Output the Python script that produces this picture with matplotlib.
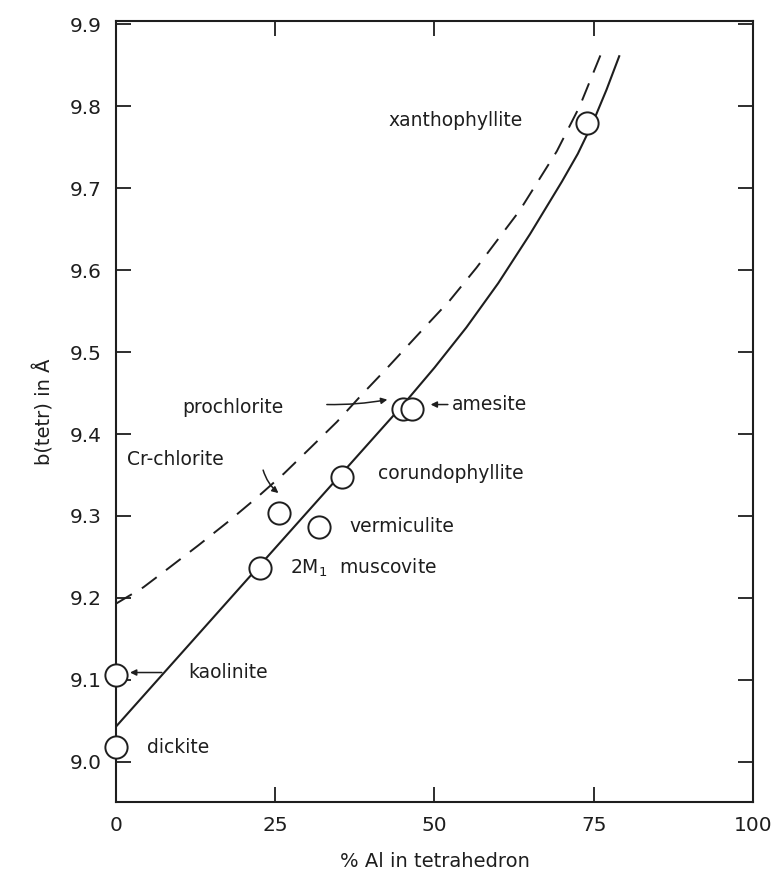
import matplotlib
matplotlib.use('Agg')
import matplotlib.pyplot as plt

# measured points (% Al in tetrahedron, b(tetr) in Angstrom)
minerals = ['xanthophyllite', 'prochlorite', 'amesite', 'corundophyllite',
            'Cr-chlorite', 'vermiculite', '2M1 muscovite', 'kaolinite', 'dickite']
al_pct = [74.0, 45.1, 46.5, 35.5, 25.6, 31.9, 22.6, 0.0, 0.0]
b_tetr = [9.779, 9.431, 9.431, 9.347, 9.304, 9.287, 9.236, 9.106, 9.018]

# solid curve
solid_x = [0.0, 22.6, 45.1, 50.0, 55.0, 60.0, 65.0, 70.0, 72.5, 74.8, 77.0, 79.0]
solid_y = [9.043, 9.240, 9.436, 9.481, 9.530, 9.584, 9.644, 9.708, 9.742, 9.779, 9.820, 9.861]

# dashed curve
dash_x = [0.0, 4.3, 8.2, 12.9, 17.6, 22.2, 26.4, 30.5, 34.7, 38.7, 42.5, 48.2,
          52.4, 56.6, 63.4, 69.2, 72.8, 76.2]
dash_y = [9.193, 9.213, 9.236, 9.264, 9.293, 9.323, 9.352, 9.383, 9.415, 9.449,
          9.480, 9.528, 9.563, 9.603, 9.673, 9.745, 9.800, 9.865]

x_ticks = [0, 25, 50, 75, 100]
y_ticks = [9.0, 9.1, 9.2, 9.3, 9.4, 9.5, 9.6, 9.7, 9.8, 9.9]

ink = '#1e1e1e'
plt.rcParams['font.family'] = ['DejaVu Sans']

fig = plt.figure(figsize=(7.79, 8.86), dpi=100)
ax = fig.add_axes([0.1489, 0.0948, 0.8177, 0.8815])

ax.plot(solid_x, solid_y, color=ink, lw=1.5, zorder=2)
ax.plot(dash_x, dash_y, color=ink, lw=1.4, linestyle=(0, (9.5, 6)), zorder=2)
ax.plot(al_pct, b_tetr, 'o', ms=16, mfc='white', mec=ink, mew=1.4, zorder=3,
        clip_on=False)

tfont = dict(fontsize=13.5, color=ink, va='center', ha='left')
ax.text(42.7, 9.782, 'xanthophyllite', **tfont)
ax.text(10.4, 9.432, 'prochlorite', **tfont)
ax.text(52.7, 9.436, 'amesite', **tfont)
ax.text(41.1, 9.352, 'corundophyllite', **tfont)
ax.text(1.7, 9.369, 'Cr-chlorite', **tfont)
ax.text(36.7, 9.287, 'vermiculite', **tfont)
ax.text(27.3, 9.237, '2M$_\\mathregular{1}$  muscovite', **tfont)
ax.text(11.3, 9.109, 'kaolinite', **tfont)
ax.text(4.8, 9.017, 'dickite', **tfont)

arr = dict(arrowstyle='-|>', color=ink, lw=1.1, mutation_scale=9,
           shrinkA=0, shrinkB=0)
ax.annotate('', xy=(42.6, 9.442), xytext=(33.1, 9.436),
            arrowprops=dict(connectionstyle='arc3,rad=0.05', **arr))
ax.annotate('', xy=(25.5, 9.328), xytext=(23.1, 9.356),
            arrowprops=dict(connectionstyle='arc3,rad=0.15', **arr))
ax.annotate('', xy=(49.4, 9.436), xytext=(52.1, 9.436), arrowprops=arr)
ax.annotate('', xy=(2.2, 9.109), xytext=(7.2, 9.109), arrowprops=arr)

ax.set_xlim(0, 100)
ax.set_ylim(8.951, 9.904)
ax.set_xticks(x_ticks)
ax.set_xticklabels([str(t) for t in x_ticks])
ax.set_yticks(y_ticks)
ax.set_yticklabels(['%.1f' % t for t in y_ticks])

ax.tick_params(direction='in', length=11, width=1.3, colors=ink,
               labelsize=14.5, top=True, right=True)
ax.tick_params(axis='x', pad=10)
ax.tick_params(axis='y', pad=10)
for s in ax.spines.values():
    s.set_linewidth(1.5)
    s.set_color(ink)

ax.set_xlabel('% Al in tetrahedron', fontsize=14, color=ink, labelpad=12)
ax.set_ylabel('b(tetr) in Å', fontsize=14, color=ink, labelpad=11)

plt.savefig('out.png', dpi=100)
